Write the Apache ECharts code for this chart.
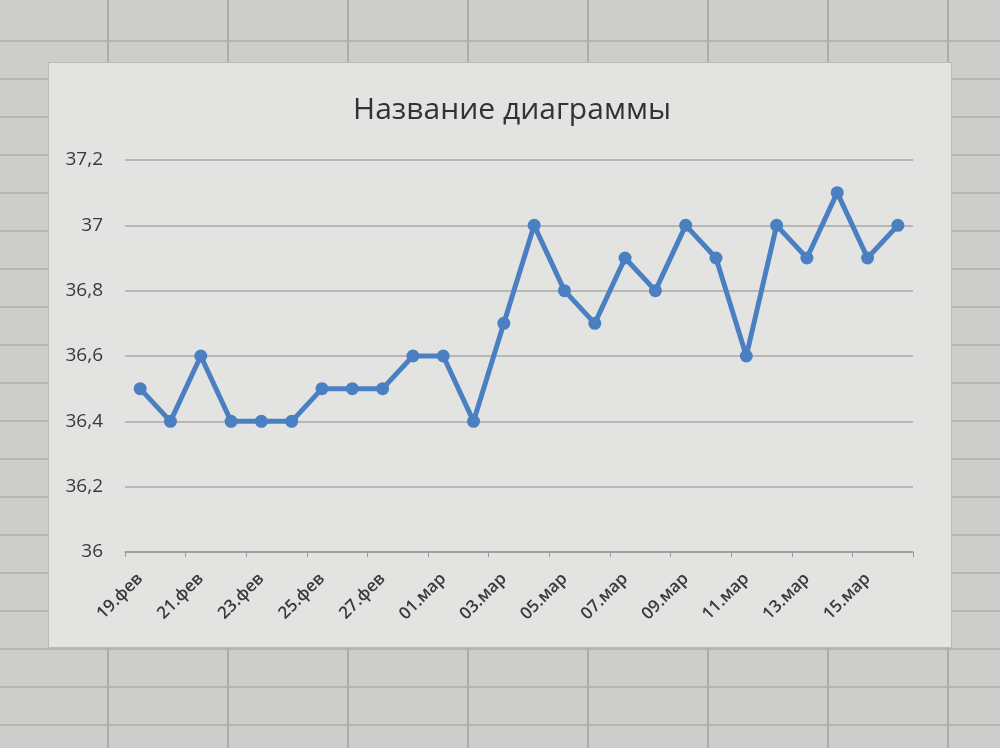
<!DOCTYPE html>
<html>
<head>
<meta charset="utf-8">
<script src="https://cdn.jsdelivr.net/npm/echarts@6/dist/echarts.min.js"></script>
<style>
  html, body { margin:0; padding:0; width:1000px; height:748px; overflow:hidden; }
  body {
    background-color:#cdcdcb;
    background-image:
      repeating-linear-gradient(to right, transparent 0, transparent 107px, #acacaa 107px, #acacaa 109px, transparent 109px, transparent 120px),
      repeating-linear-gradient(to bottom, transparent 0, transparent 36px, #b5b5b3 36px, #b5b5b3 38px);
    background-position: 0 2px, 0 4px;
  }
  #card { position:absolute; left:48px; top:62px; width:904px; height:586px;
          background:#e3e3e1; border:1px solid #b9b9b7; box-sizing:border-box; }
  #chart { position:absolute; left:0; top:0; width:1000px; height:748px; }
</style>
</head>
<body>
<div id="card"></div>
<div id="chart"></div>
<script>
const titleText = "Название диаграммы";
const dates = ["19.фев","20.фев","21.фев","22.фев","23.фев","24.фев","25.фев","26.фев","27.фев","28.фев",
  "01.мар","02.мар","03.мар","04.мар","05.мар","06.мар","07.мар","08.мар","09.мар","10.мар",
  "11.мар","12.мар","13.мар","14.мар","15.мар","16.мар"];
const temps = [36.5,36.4,36.6,36.4,36.4,36.4,36.5,36.5,36.5,36.6,
  36.6,36.4,36.7,37.0,36.8,36.7,36.9,36.8,37.0,36.9,
  36.6,37.0,36.9,37.1,36.9,37.0];
const yTicks = [36, 36.2, 36.4, 36.6, 36.8, 37, 37.2];

const chart = echarts.init(document.getElementById('chart'), null, {renderer:'canvas'});
chart.setOption({
  backgroundColor: 'transparent',
  animation: false,
  title: {
    text: titleText, left: 507, top: 90, textAlign: 'center',
    textStyle: { fontFamily: 'Open Sans, Noto Sans, sans-serif', fontSize: 30, fontWeight: 'normal', color: '#333333' }
  },
  grid: { left: 125, right: 87, top: 160, bottom: 196, containLabel: false },
  xAxis: {
    type: 'category', data: dates, boundaryGap: true,
    axisLine: { lineStyle: { color: '#9a9a9a', width: 1.5 } },
    axisTick: { show: true, interval: 1, length: 5, lineStyle: { color: '#9a9a9a' } },
    axisLabel: { interval: 1, rotate: 45, margin: 24, fontFamily: 'Open Sans, Noto Sans, sans-serif',
                 fontSize: 17, fontWeight: 600, color: '#3a3a3a' }
  },
  yAxis: {
    type: 'value', min: yTicks[0], max: yTicks[yTicks.length-1], interval: 0.2,
    axisLine: { show: false }, axisTick: { show: false },
    axisLabel: { margin: 22, fontFamily: 'Open Sans, Noto Sans, sans-serif', fontSize: 19, color: '#3a3a3a',
      formatter: v => String(Math.round(v*10)/10).replace('.', ',') },
    splitLine: { lineStyle: { color: '#a8a8a8', width: 1.5 } }
  },
  series: [{
    type: 'line', data: temps,
    lineStyle: { color: '#4a80c2', width: 5 },
    itemStyle: { color: '#4a80c2' },
    symbol: 'circle', symbolSize: 13
  }]
});
</script>
</body>
</html>
